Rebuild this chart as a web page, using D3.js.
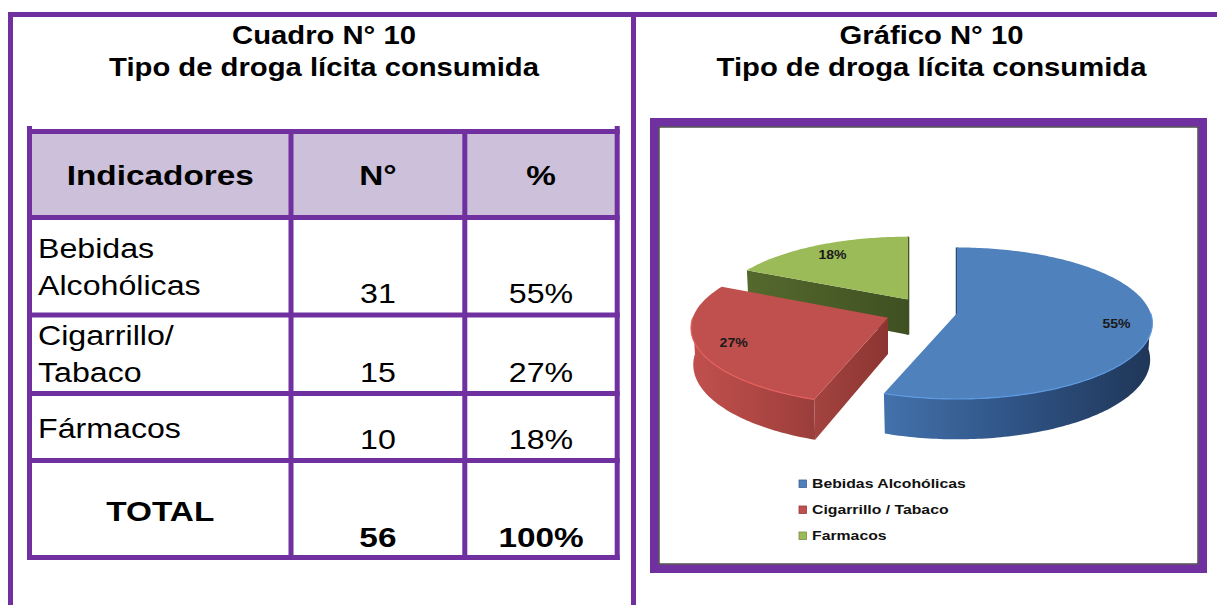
<!DOCTYPE html>
<html>
<head>
<meta charset="utf-8">
<script src="https://cdn.jsdelivr.net/npm/d3@7"></script>
<style>
  html, body { margin: 0; padding: 0; background: #ffffff; }
  svg { display: block; }
  text { font-family: "Liberation Sans", Arial, Helvetica, sans-serif; fill: #000; }
</style>
</head>
<body>
<svg id="chart" width="1217" height="605"></svg>
<script>
// ---------------- DATA ----------------
const titleLeft = ["Cuadro N° 10", "Tipo de droga lícita consumida"];
const titleRight = ["Gráfico N° 10", "Tipo de droga lícita consumida"];
const headers = ["Indicadores", "N°", "%"];
const categories = [["Bebidas", "Alcohólicas"], ["Cigarrillo/", "Tabaco"], ["Fármacos"]];
const counts = [31, 15, 10];
const percents = ["55%", "27%", "18%"];
const totalLabel = "TOTAL";
const totalCount = 56;
const totalPercent = "100%";
const legendLabels = ["Bebidas Alcohólicas", "Cigarrillo / Tabaco", "Farmacos"];

// ---------------- STYLE / LAYOUT ----------------
const PURPLE = "#7030A0";
const HEADER_FILL = "#CCC0DA";
const SX = 1.17; // horizontal stretch of the original rendering
const topColors = ["#4F81BD", "#C0504D", "#9BBB59"];
const sideGrad = [["#4371ab", "#2f5384", "#1f3657"], ["#c0504d", "#b04744", "#9a3e3b"], ["#5a6f31", "#4a5d27", "#3d4e20"]];
const cutGrad = [["#2c4b78", "#2c4b78"], ["#a3433f", "#8c3532"], ["#55692d", "#3f5022"]];
const explodeDist = [29.4, 43.3, 37.5];

const svg = d3.select("#chart");
const defs = svg.append("defs");

function txt(g, x, y, s, size, weight, anchor, fill) {
  return g.append("text")
    .attr("transform", `translate(${x},${y}) scale(${SX},1)`)
    .attr("text-anchor", anchor || "middle")
    .style("font-size", size + "px")
    .style("font-weight", weight || "normal")
    .style("fill", fill || "#000")
    .text(s);
}

// ---------------- OUTER FRAME ----------------
const frame = svg.append("g");
frame.append("line").attr("x1", 8).attr("x2", 1217).attr("y1", 14.5).attr("y2", 14.5)
  .attr("stroke", PURPLE).attr("stroke-width", 5);
frame.append("line").attr("x1", 10.5).attr("x2", 10.5).attr("y1", 12).attr("y2", 605)
  .attr("stroke", PURPLE).attr("stroke-width", 5);
frame.append("line").attr("x1", 633.5).attr("x2", 633.5).attr("y1", 12).attr("y2", 605)
  .attr("stroke", PURPLE).attr("stroke-width", 5);

// ---------------- TITLES ----------------
const tg = svg.append("g");
titleLeft.forEach((t, i) => txt(tg, 324, 44 + i * 32, t, 25, "bold"));
titleRight.forEach((t, i) => txt(tg, 931.5, 44 + i * 32, t, 25, "bold"));

// ---------------- TABLE ----------------
const colX = [29.5, 291, 464.8, 617.2];
const rowY = [131.5, 217.5, 315, 393.5, 460.5, 557.5];
const table = svg.append("g");
const colCenter = i => (colX[i] + colX[i + 1]) / 2;

table.append("rect").attr("x", colX[0]).attr("y", rowY[0])
  .attr("width", colX[3] - colX[0]).attr("height", rowY[1] - rowY[0]).attr("fill", HEADER_FILL);

headers.forEach((h, i) => txt(table, colCenter(i), 184.5, h, 28.5, "bold"));

const labelFirstBaseline = [40, 30, 44];
categories.forEach((lines, r) => {
  const top = rowY[r + 1], bottom = rowY[r + 2];
  lines.forEach((ln, j) => txt(table, 38, top + labelFirstBaseline[r] + j * 37, ln, 27.5, "normal", "start"));
  txt(table, colCenter(1), bottom - 12, String(counts[r]), 27.5);
  txt(table, colCenter(2), bottom - 12, percents[r], 27.5);
});
txt(table, colCenter(0), rowY[4] + 60, totalLabel, 28.5, "bold");
txt(table, colCenter(1), rowY[5] - 11, String(totalCount), 28.5, "bold");
txt(table, colCenter(2), rowY[5] - 11, totalPercent, 28.5, "bold");

rowY.forEach(y => table.append("line").attr("x1", colX[0] - 2.5).attr("x2", colX[3] + 2.5)
  .attr("y1", y).attr("y2", y).attr("stroke", PURPLE).attr("stroke-width", 5));
colX.forEach((x, i) => table.append("line").attr("x1", x).attr("x2", x)
  .attr("y1", (i === 0 || i === 3) ? 126 : rowY[0]).attr("y2", rowY[5] + 2.5)
  .attr("stroke", PURPLE).attr("stroke-width", 5));

// ---------------- CHART PANEL ----------------
const panel = svg.append("g");
panel.append("rect").attr("x", 654.25).attr("y", 122.25).attr("width", 548.5).attr("height", 446.5)
  .attr("fill", "#fff").attr("stroke", PURPLE).attr("stroke-width", 8.5);
panel.append("rect").attr("x", 659).attr("y", 127).attr("width", 539).attr("height", 437)
  .attr("fill", "#fff").attr("stroke", "#222").attr("stroke-width", 1.2);

// ---------------- 3D PIE (perspective projection) ----------------
const cx = 928, cy = 311.3, R = 193, T = 39.3;
const sinT = 0.383, cosT = Math.sqrt(1 - sinT * sinT), Dc = 1350;
// ox, oy: slice centre offset; rx, ry: offset from slice centre in plane; h: 0 top, 1 bottom
function proj(ox, oy, rx, ry, h) {
  const Y = oy + ry, Z = h * T;
  const w = -Y * cosT + Z * sinT;
  const sc = Dc / (Dc + w);
  return [cx + ox + rx * sc, cy + (Y * sinT + Z * cosT) * sc];
}
const arcs = d3.pie().sort(null).value(d => d)(counts);
const line = d3.line();
const DEG = Math.PI / 180;
function samples(a0, a1) {
  const n = Math.max(2, Math.ceil((a1 - a0) / DEG));
  return d3.range(n + 1).map(i => a0 + (a1 - a0) * i / n);
}
function grad(id, stops) {
  const gr = defs.append("linearGradient").attr("id", id)
    .attr("x1", "0%").attr("x2", "100%").attr("y1", "0%").attr("y2", "0%");
  stops.forEach((c, j) => gr.append("stop").attr("offset", (j * 100 / (stops.length - 1)) + "%").attr("stop-color", c));
}
arcs.forEach((d, i) => { grad("side" + i, sideGrad[i]); grad("cut" + i, cutGrad[i]); });

const pie = svg.append("g");
[2, 1, 0].forEach(i => {
  const d = arcs[i];
  const a0 = d.startAngle, a1 = d.endAngle, m = (a0 + a1) / 2;
  const ox = explodeDist[i] * Math.sin(m), oy = -explodeDist[i] * Math.cos(m);
  const rim = (a, h, r = R) => proj(ox, oy, r * Math.sin(a), -r * Math.cos(a), h);
  const ctr = h => proj(ox, oy, 0, 0, h);
  const g = pie.append("g");

  const s0 = Math.max(a0, Math.PI / 2), s1 = Math.min(a1, 3 * Math.PI / 2);
  if (s1 > s0) {
    const top = samples(s0, s1).map(a => rim(a, 0));
    const bot = samples(s0, s1).reverse().map(a => rim(a, 1));
    g.append("path").attr("d", line(top.concat(bot)) + "Z").attr("fill", `url(#side${i})`);
  }
  if (Math.sin(a0) < -1e-6) {
    g.append("path").attr("d", line([ctr(0), rim(a0, 0), rim(a0, 1), ctr(1)]) + "Z").attr("fill", `url(#cut${i})`);
  }
  if (Math.sin(a1) > 1e-6) {
    g.append("path").attr("d", line([ctr(0), rim(a1, 0), rim(a1, 1), ctr(1)]) + "Z").attr("fill", `url(#cut${i})`);
  }
  [a0, a1].forEach(a => {
    if (Math.abs(Math.sin(a)) < 1e-6) {
      g.append("path").attr("d", line([rim(a, 0), ctr(0), ctr(1)]))
        .attr("fill", "none").attr("stroke", cutGrad[i][1]).attr("stroke-width", 2.5);
    }
  });
  const topPts = [ctr(0)].concat(samples(a0, a1).map(a => rim(a, 0)));
  g.append("path").attr("d", line(topPts) + "Z").attr("fill", topColors[i]);
  if (s1 > s0) {
    g.append("path").attr("d", line(samples(s0, s1).map(a => rim(a, 0))))
      .attr("fill", "none").attr("stroke", d3.color(topColors[i]).brighter(0.5)).attr("stroke-width", 1.2);
  }
  const [lx, ly] = rim(m, 0, 0.82 * R);
  txt(pie, lx, ly + 4.5, percents[i], 12, "bold", "middle", "#1a1a1a");
});

// ---------------- LEGEND ----------------
const legend = svg.append("g");
legendLabels.forEach((l, i) => {
  const y = 488 + i * 26;
  legend.append("rect").attr("x", 799).attr("y", y - 8).attr("width", 7.5).attr("height", 7.5)
    .attr("fill", topColors[i]).attr("stroke", d3.color(topColors[i]).darker(0.8)).attr("stroke-width", 0.8);
  txt(legend, 812, y, l, 13.5, "bold", "start", "#111");
});
</script>
</body>
</html>
